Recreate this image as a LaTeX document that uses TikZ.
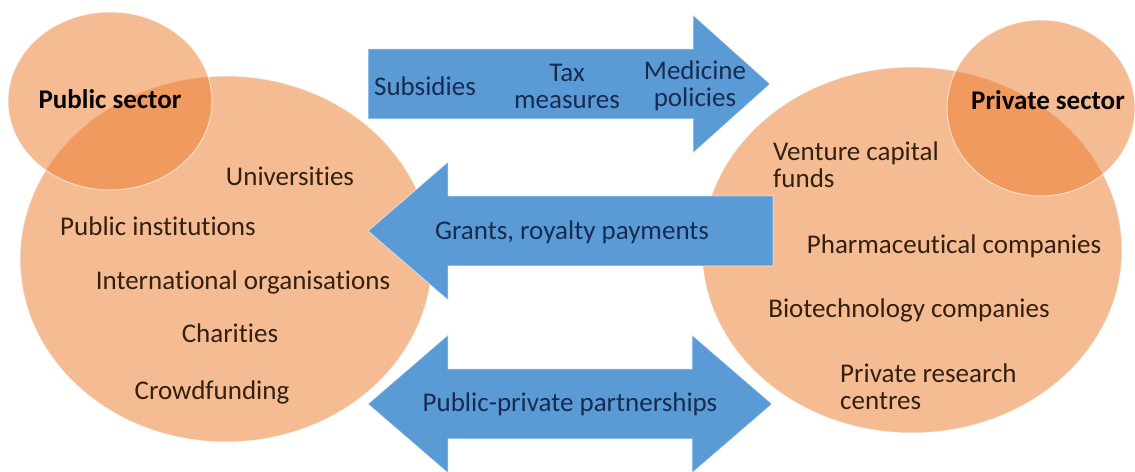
\documentclass[tikz,border=0pt]{standalone}
\usepackage{fontspec}
\setmainfont{Carlito}[Ligatures=NoCommon]
\usetikzlibrary{positioning}
\definecolor{secorange}{HTML}{ED7D31}
\definecolor{flowblue}{HTML}{5B9BD5}
\definecolor{inkbrown}{HTML}{33200F}
\definecolor{inknavy}{HTML}{172B52}
\tikzset{
  blob/.style={fill=secorange, fill opacity=0.52, draw=white, draw opacity=0.6, line width=1bp},
  flow/.style={fill=flowblue, draw=white, draw opacity=0.5, line width=1bp},
  item/.style={text=inkbrown, inner sep=0pt, font=\fontsize{27bp}{27bp}\selectfont},
  sector/.style={item, text=black!85!inkbrown, font=\fontsize{27bp}{27bp}\selectfont\bfseries},
  flowtxt/.style={text=inknavy, inner sep=0pt, align=center, font=\fontsize{27bp}{27bp}\selectfont},
}

\begin{document}
\begin{tikzpicture}[x=1bp, y=-1bp]
    \useasboundingbox (0,0) rectangle (1135,472);
    % sector circles
    \fill[white] (0,0) rectangle (1135,472);
    \draw[blob] (226,259) ellipse [x radius=206, y radius=183];
    \draw[blob] (110,101) ellipse [x radius=102, y radius=89];
    \draw[blob] (912,250) ellipse [x radius=210, y radius=183];
    \draw[blob] (1041,108) ellipse [x radius=94, y radius=88];
    % block arrows
    \draw[flow] (368,49) -- (693,49) -- (693,15) -- (770,84) -- (693,153) -- (693,119) -- (368,119) -- cycle;
    \draw[flow] (773,196) -- (448,196) -- (448,162) -- (368,231) -- (448,300) -- (448,266) -- (773,266) -- cycle;
    \draw[flow] (368,404) -- (448,335) -- (448,369) -- (692,369) -- (692,335) -- (772,404)
      -- (692,473) -- (692,439) -- (448,439) -- (448,473) -- cycle;
    % public side
    \node[sector] (pub) at (110,99) {Public sector};
    \node[item] (uni) at (290,176) {Universities};
    \node[item] (inst) at (158,226) {Public institutions};
    \node[item] (intl) at (243,282) {International organisations};
    \node[item] (char) at (230,333) {Charities};
    \node[item] (crowd) at (212,392) {Crowdfunding};
    % private side
    \node[sector] (priv) at (1048,100) {Private sector};
    \node[item, align=left, anchor=west] (vc) at (773,165) {Venture capital\\funds};
    \node[item] (pharma) at (954,246) {Pharmaceutical companies};
    \node[item] (biotech) at (909,310) {Biotechnology companies};
    \node[item, align=left, anchor=west] (labs) at (840,387) {Private research\\centres};
    % flow labels
    \node[flowtxt] (subs) at (425,86) {Subsidies};
    \node[flowtxt] (tax) at (567,86) {Tax\\measures};
    \node[flowtxt] (med) at (695,86) {Medicine\\policies};
    \node[flowtxt] (grants) at (572,232) {Grants, royalty payments};
    \node[flowtxt] (ppp) at (570,404) {Public-private partnerships};
  \end{tikzpicture}
\end{document}
